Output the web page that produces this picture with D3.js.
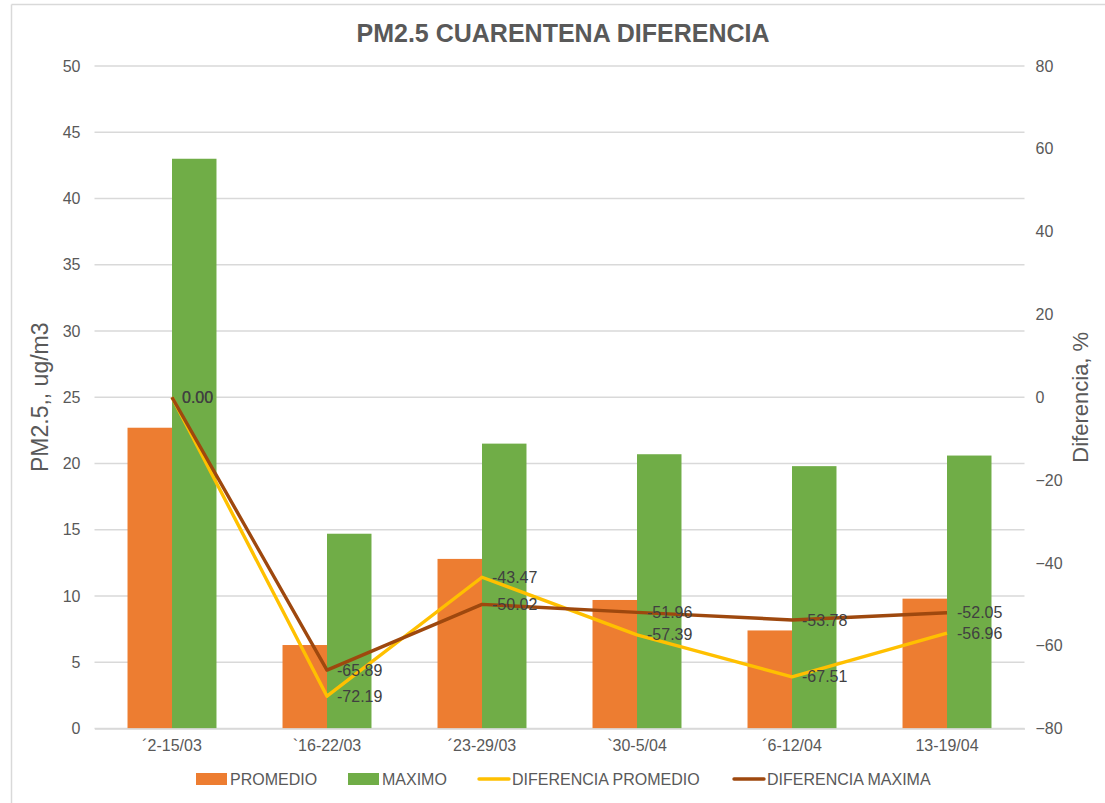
<!DOCTYPE html>
<html><head><meta charset="utf-8">
<script src="https://cdn.jsdelivr.net/npm/d3@7"></script>
<style>body{margin:0;background:#fff}svg{display:block}text{font-family:"Liberation Sans",Arial,sans-serif}</style>
</head><body><svg id="c" width="1105" height="803"></svg>
<script>
const categories = ["\u00b42-15/03", "`16-22/03", "\u00b423-29/03", "`30-5/04", "\u00b46-12/04", "13-19/04"];
const promedio = [22.7, 6.3, 12.8, 9.7, 7.4, 9.8];
const maximo = [43.0, 14.7, 21.5, 20.7, 19.8, 20.6];
const difPromedio = [0.00, -72.19, -43.47, -57.39, -67.51, -56.96];
const difMaxima = [0.00, -65.89, -50.02, -51.96, -53.78, -52.05];
const leftTicks = [0,5,10,15,20,25,30,35,40,45,50];
const rightTicks = [-80,-60,-40,-20,0,20,40,60,80];

const svg = d3.select("#c");
const L = 94.5, R = 1024.5, T = 66, B = 728.5;
const txt = "#595959";
const fs = "16px";

// chart border (top + left)
svg.append("line").attr("x1",11.5).attr("x2",1105).attr("y1",4.5).attr("y2",4.5).attr("stroke","#d9d9d9").attr("stroke-width",1.5);
svg.append("line").attr("x1",11.5).attr("x2",11.5).attr("y1",4.5).attr("y2",803).attr("stroke","#d9d9d9").attr("stroke-width",1.5);

const x = d3.scaleBand().domain(categories).range([L,R]);
const yL = d3.scaleLinear().domain([0,50]).range([B,T]);
const yR = d3.scaleLinear().domain([-80,80]).range([B,T]);
const bw = x.bandwidth()*0.287;

// gridlines
svg.append("g").selectAll("line").data(leftTicks).join("line")
  .attr("x1",L).attr("x2",R).attr("y1",d=>yL(d)).attr("y2",d=>yL(d))
  .attr("stroke","#d9d9d9").attr("stroke-width",1.3);

// left axis
const gl = svg.append("g").attr("transform",`translate(${L},0)`)
  .call(d3.axisLeft(yL).tickValues(leftTicks).tickSize(0).tickPadding(14));
gl.select(".domain").remove();
gl.selectAll("text").attr("fill",txt).style("font-size",fs).style("font-family","'Liberation Sans',Arial,sans-serif");

// right axis
const gr = svg.append("g").attr("transform",`translate(${R},0)`)
  .call(d3.axisRight(yR).tickValues(rightTicks).tickSize(0).tickPadding(11));
gr.select(".domain").remove();
gr.selectAll("text").attr("fill",txt).style("font-size",fs).style("font-family","'Liberation Sans',Arial,sans-serif");

// bars
const cx = c => x(c) + x.bandwidth()/2;
svg.append("g").selectAll("rect").data(categories).join("rect")
  .attr("x",c=>cx(c)-bw).attr("width",bw)
  .attr("y",(c,i)=>yL(promedio[i])).attr("height",(c,i)=>yL(0)-yL(promedio[i]))
  .attr("fill","#ed7d31");
svg.append("g").selectAll("rect").data(categories).join("rect")
  .attr("x",c=>cx(c)).attr("width",bw)
  .attr("y",(c,i)=>yL(maximo[i])).attr("height",(c,i)=>yL(0)-yL(maximo[i]))
  .attr("fill","#70ad47");

// x axis
const gx = svg.append("g").attr("transform",`translate(0,${B})`)
  .call(d3.axisBottom(x).tickSize(0).tickPadding(11));
gx.select(".domain").attr("stroke","#d9d9d9").attr("stroke-width",1.3);
gx.selectAll("text").attr("fill",txt).style("font-size",fs).style("font-family","'Liberation Sans',Arial,sans-serif");

// lines
const line = d3.line().x((d,i)=>cx(categories[i])).y(d=>yR(d));
svg.append("path").datum(difPromedio).attr("d",line).attr("fill","none").attr("stroke","#ffc000").attr("stroke-width",3.4).attr("stroke-linejoin","round");
svg.append("path").datum(difMaxima).attr("d",line).attr("fill","none").attr("stroke","#9e480e").attr("stroke-width",3.4).attr("stroke-linejoin","round");

// data labels
function labels(data){
  svg.append("g").selectAll("text").data(data).join("text")
    .attr("x",(d,i)=>cx(categories[i])+10).attr("y",d=>yR(d)).attr("dy","0.35em")
    .attr("fill","#404040").style("font-size",fs).text(d=>d.toFixed(2));
}
labels(difMaxima);
labels(difPromedio);

// title
svg.append("text").attr("x",563).attr("y",42).attr("text-anchor","middle")
  .attr("fill",txt).style("font-size","25px").style("font-weight","bold").text("PM2.5 CUARENTENA DIFERENCIA");

// axis titles
svg.append("text").attr("transform",`translate(48,${(T+B)/2}) rotate(-90)`).attr("text-anchor","middle")
  .attr("fill",txt).style("font-size","23px").text("PM2.5,, ug/m3");
svg.append("text").attr("transform",`translate(1088,${(T+B)/2}) rotate(-90)`).attr("text-anchor","middle")
  .attr("fill",txt).style("font-size","22px").text("Diferencia, %");

// legend
const legend = [
  {name:"PROMEDIO", color:"#ed7d31", type:"rect", x:196},
  {name:"MAXIMO", color:"#70ad47", type:"rect", x:348},
  {name:"DIFERENCIA PROMEDIO", color:"#ffc000", type:"line", x:478},
  {name:"DIFERENCIA MAXIMA", color:"#9e480e", type:"line", x:733}
];
const ly = 779;
const lg = svg.append("g").selectAll("g").data(legend).join("g").attr("transform",d=>`translate(${d.x},${ly})`);
lg.filter(d=>d.type==="rect").append("rect").attr("x",0).attr("y",-6).attr("width",31).attr("height",12).attr("fill",d=>d.color);
lg.filter(d=>d.type==="line").append("line").attr("x1",1).attr("x2",31).attr("y1",0).attr("y2",0).attr("stroke",d=>d.color).attr("stroke-width",3.4).attr("stroke-linecap","round");
lg.append("text").attr("x",34).attr("y",0).attr("dy","0.35em").attr("fill",txt).style("font-size",fs).text(d=>d.name);
</script></body></html>
